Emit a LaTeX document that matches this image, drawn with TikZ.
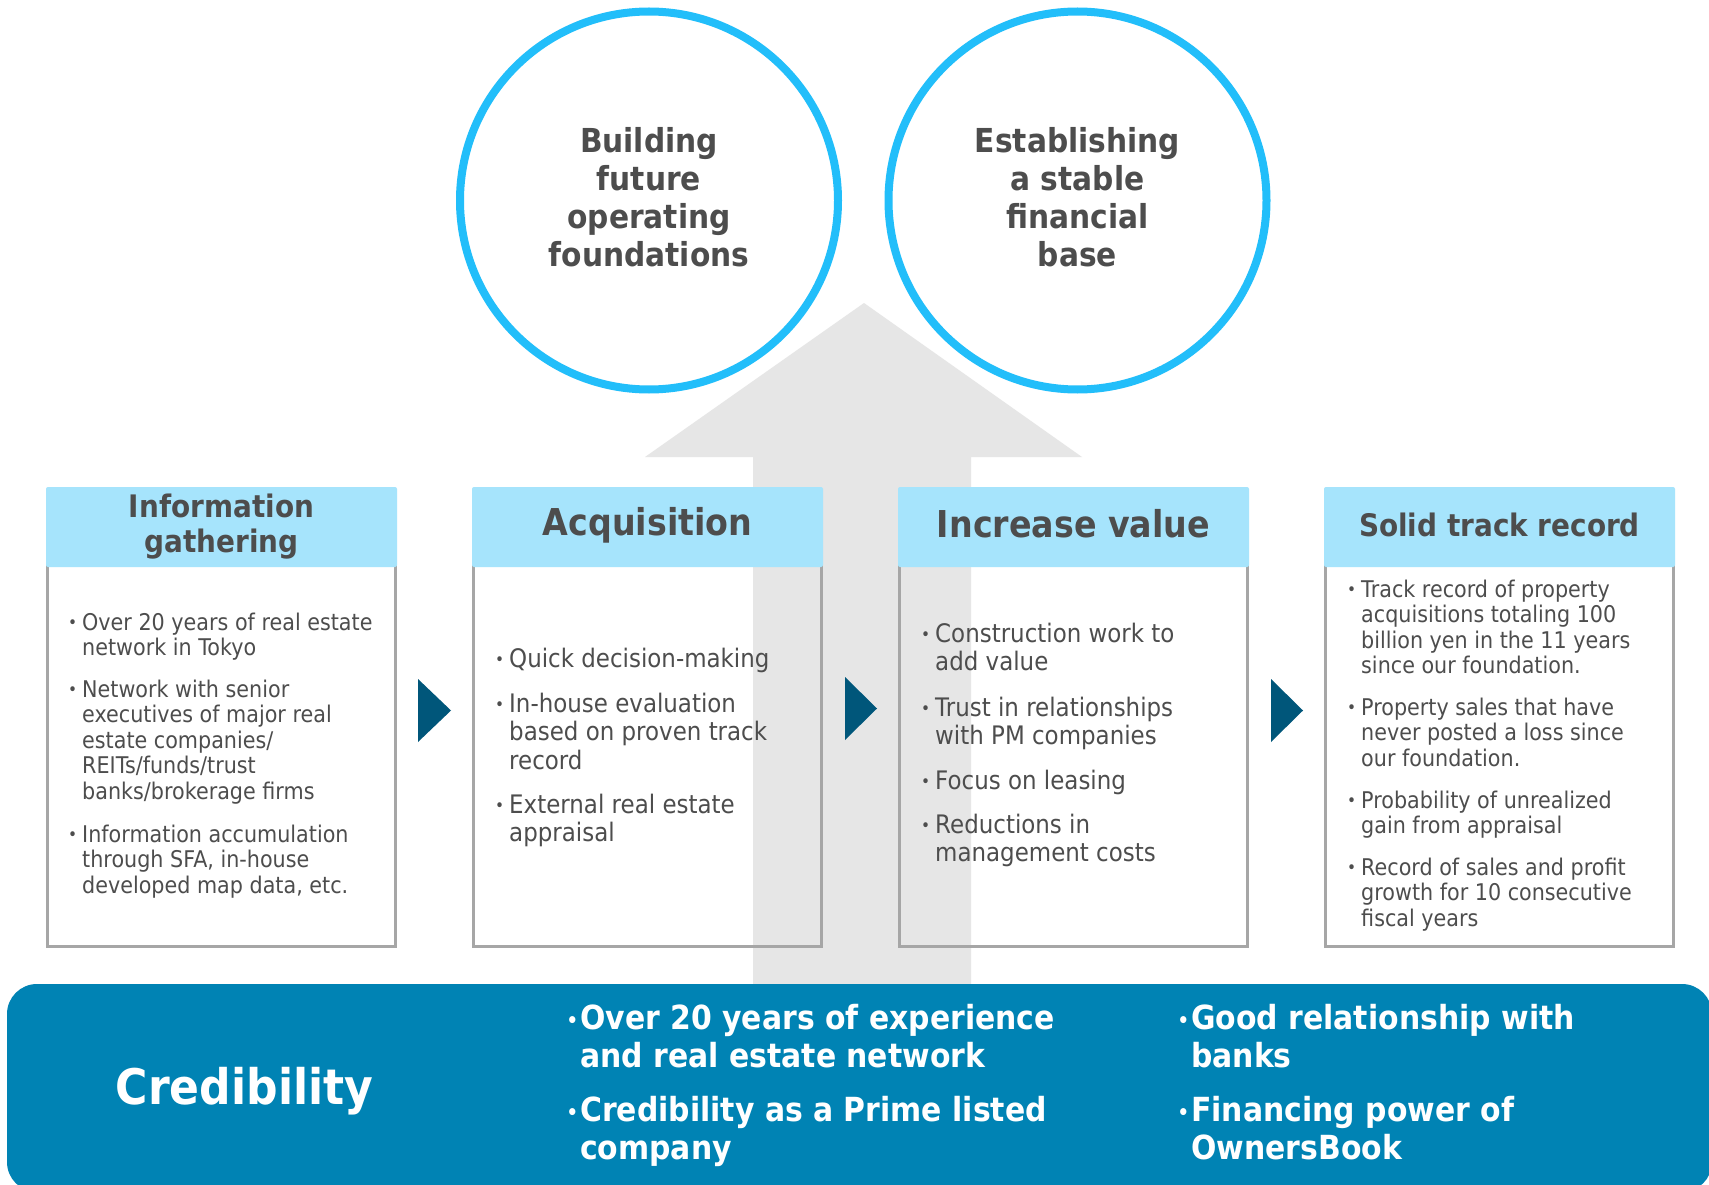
\documentclass[tikz,border=0pt]{standalone}
\usepackage{fontspec}
\setmainfont{DejaVu Sans}[FakeStretch=0.9]
\definecolor{cyanring}{RGB}{34,190,250}
\definecolor{headfill}{RGB}{166,228,252}
\definecolor{txt}{RGB}{77,77,77}
\definecolor{framegray}{RGB}{166,166,166}
\definecolor{arrowgray}{RGB}{230,230,230}
\definecolor{bandblue}{RGB}{0,131,180}
\definecolor{tri}{RGB}{0,86,122}
\newcommand{\bl}{\makebox[0pt][r]{\raisebox{1.5pt}{\fontsize{17}{17}\selectfont •}\hspace{5pt}}}
\newcommand{\bbl}{\makebox[0pt][r]{\raisebox{2pt}{\fontsize{20}{20}\selectfont •}\hspace{2pt}}}
\tikzset{
  ring/.style={circle, draw=cyanring, line width=8pt, fill=white, minimum size=378pt, inner sep=0pt},
  ringtext/.style={font=\bfseries\fontsize{33}{38.3}\selectfont, text=txt, align=center, anchor=base, inner sep=0pt},
  frame/.style={draw=framegray, line width=3pt},
  head/.style={fill=headfill, rounded corners=2pt},
  headtext/.style={font=\bfseries\fontsize{31}{35}\selectfont, text=txt, align=center, anchor=base, inner sep=0pt},
  headbig/.style={font=\bfseries\fontsize{37}{40}\selectfont, text=txt, align=center, anchor=base, inner sep=0pt},
  itemsm/.style={font=\fontsize{23}{25.6}\selectfont, text=txt, align=left, anchor=base west, inner sep=0pt},
  itembig/.style={font=\fontsize{25.5}{28.6}\selectfont, text=txt, align=left, anchor=base west, inner sep=0pt},
  banditem/.style={font=\bfseries\fontsize{33.2}{38}\selectfont, text=white, align=left, anchor=base west, inner sep=0pt},
  tristyle/.style={fill=tri},
}
\begin{document}
\begin{tikzpicture}[x=1pt,y=-1pt]
\useasboundingbox (0,0) rectangle (1709,1185);
\fill[white] (0,0) rectangle (1709,1185);
% big grey arrow
\fill[arrowgray] (753,990) -- (753,457) -- (645,457) -- (864,303) -- (1082,457) -- (971,457) -- (971,990) -- cycle;
% circles
\node[ring] (c1) at (649,200.5) {};
\node[ring] (c2) at (1077.5,200.5) {};
% (anchor base = baseline of the last line)
\node[ringtext] (c1t) at (649,267) {Building\\future\\operating\\foundations};
\node[ringtext] (c2t) at (1077.5,267) {Establishing\\a stable\\financial\\base};
% boxes
\foreach \x/\n in {46/1,472/2,898/3,1324/4}{
  \draw[frame] (\x+1.5,560) rectangle (\x+349.5,946.5);
  \fill[head] (\x,487) rectangle (\x+351,567);
}
\node[headtext] (h1) at (221.5,552) {Information\\gathering};
\node[headbig] (h2) at (647.5,535) {Acquisition};
\node[headbig] (h3) at (1073.5,537) {Increase value};
\node[headtext] (h4) at (1499.5,536) {Solid track record};
% triangles
\fill[tristyle] (418,679) -- (451,710.5) -- (418,742) -- cycle;
\fill[tristyle] (845,677) -- (877,708.5) -- (845,740) -- cycle;
\fill[tristyle] (1271,679) -- (1303,710.5) -- (1271,742) -- cycle;
% box 1 items
\node[itemsm] (a1) at (82,655.6) {\bl Over 20 years of real estate\\network in Tokyo};
\node[itemsm] (a2) at (82,799.4) {\bl Network with senior\\executives of major real\\estate companies/\\REITs/funds/trust\\banks/brokerage firms};
\node[itemsm] (a3) at (82,893.2) {\bl Information accumulation\\through SFA, in-house\\developed map data, etc.};
% box 2 items
\node[itembig] (b1) at (509,667) {\bl Quick decision-making};
\node[itembig] (b2) at (509,769.2) {\bl In-house evaluation\\based on proven track\\record};
\node[itembig] (b3) at (509,841.6) {\bl External real estate\\appraisal};
% box 3 items
\node[itembig] (d1) at (935,670.6) {\bl Construction work to\\add value};
\node[itembig] (d2) at (935,744.6) {\bl Trust in relationships\\with PM companies};
\node[itembig] (d3) at (935,789) {\bl Focus on leasing};
\node[itembig] (d4) at (935,861.6) {\bl Reductions in\\management costs};
% box 4 items
\node[itemsm] (e1) at (1361,673.8) {\bl Track record of property\\acquisitions totaling 100\\billion yen in the 11 years\\since our foundation.};
\node[itemsm] (e2) at (1361,766.2) {\bl Property sales that have\\never posted a loss since\\our foundation.};
\node[itemsm] (e3) at (1361,833.6) {\bl Probability of unrealized\\gain from appraisal};
\node[itemsm] (e4) at (1361,926.2) {\bl Record of sales and profit\\growth for 10 consecutive\\fiscal years};
% band
\fill[bandblue, rounded corners=30pt] (7,984) rectangle (1712,1192);
\node[font=\bfseries\fontsize{49}{52}\selectfont, text=white, anchor=base, inner sep=0pt] (cred) at (244.5,1104) {Credibility};
\node[banditem] (f1) at (580,1067) {\bbl Over 20 years of experience\\and real estate network};
\node[banditem] (f2) at (580,1159) {\bbl Credibility as a Prime listed\\company};
\node[banditem] (g1) at (1191,1067) {\bbl Good relationship with\\banks};
\node[banditem] (g2) at (1191,1159) {\bbl Financing power of\\OwnersBook};
\end{tikzpicture}
\end{document}
